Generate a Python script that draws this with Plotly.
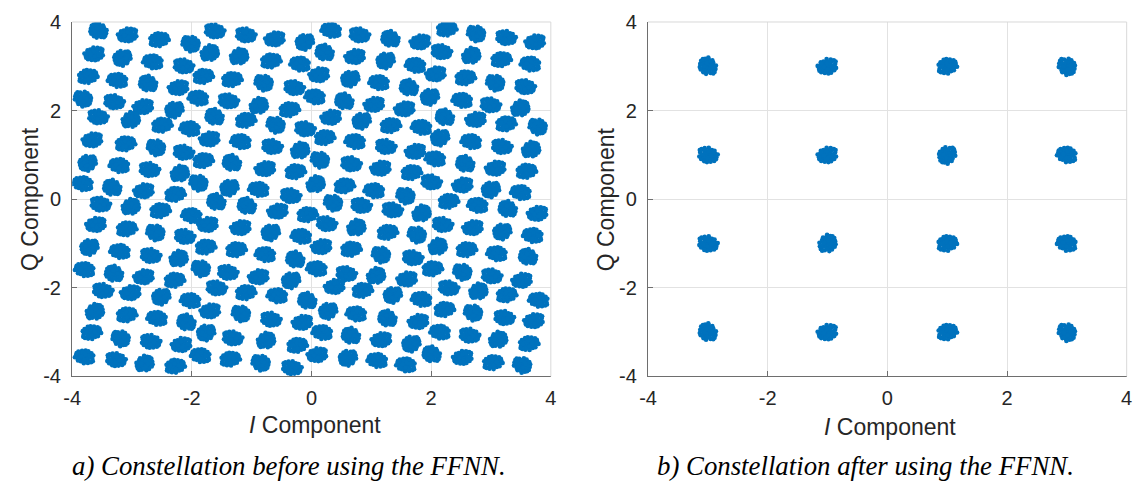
import plotly.graph_objects as go

# Cluster centres of the received symbols before equalisation (I, Q)
left_i = [
    -3.56, -3.07, -2.55, -2.02, -1.62, -3.63, -3.16, -2.65, -2.14, -1.70,
    -3.74, -3.24, -2.73, -2.22, -1.81, -3.82, -3.30, -2.81, -2.29, -1.89,
    -3.57, -3.02, -2.50, -2.03, -1.62, -3.66, -3.11, -2.60, -2.14, -1.70,
    -3.74, -3.21, -2.71, -2.20, -1.81, -3.82, -3.33, -2.80, -2.28, -1.89,
    -1.10, -0.61, -0.11, 0.33, 0.80, -1.21, -0.68, -0.19, 0.22, 0.73,
    -1.33, -0.80, -0.29, 0.13, 0.65, 1.13, -1.39, -0.88, -0.37, 0.06, 0.55, 1.05,
    -1.10, -0.60, -0.11, 0.33, 0.84, -1.18, -0.66, -0.19, 0.22, 0.73,
    -1.33, -0.77, -0.27, 0.14, 0.66, 1.16, -1.37, -0.88, -0.35, 0.07, 0.55, 1.05,
    1.32, 1.82, 2.26, 2.75, 3.25, 3.74, 1.24, 1.74, 2.17, 2.67, 3.17, 3.66,
    1.63, 2.08, 2.57, 3.07, 3.57, 1.56, 1.98, 2.52, 2.99, 3.49,
    1.32, 1.84, 2.23, 2.75, 3.25, 3.78, 1.24, 1.74, 2.15, 2.67, 3.18, 3.67,
    1.67, 2.07, 2.57, 3.08, 3.59, 1.57, 2.00, 2.53, 3.00, 3.50,
    -3.53, -3.02, -2.53, -2.00, -1.59, -3.60, -3.09, -2.61, -2.12, -1.73,
    -3.71, -3.20, -2.69, -2.22, -1.77, -3.79, -3.30, -2.80, -2.29, -1.85,
    -3.49, -3.02, -2.51, -2.02, -1.59, -3.62, -3.09, -2.58, -2.09, -1.69,
    -3.68, -3.19, -2.69, -2.17, -1.76, -3.79, -3.27, -2.79, -2.28, -1.85,
    -1.08, -0.56, -0.07, 0.36, 0.83, -1.18, -0.68, -0.17, 0.25, 0.75,
    -1.26, -0.77, -0.27, 0.17, 0.66, 1.16, -1.40, -0.88, -0.34, 0.09, 0.58, 1.08,
    -1.10, -0.57, -0.07, 0.39, 0.85, -1.18, -0.68, -0.15, 0.28, 0.75,
    -1.32, -0.76, -0.24, 0.18, 0.66, 1.17, -1.36, -0.85, -0.33, 0.10, 0.61, 1.10,
    1.35, 1.84, 2.29, 2.78, 3.28, 3.78, 1.27, 1.76, 2.19, 2.70, 3.19, 3.70,
    1.69, 2.11, 2.59, 3.10, 3.62, 1.60, 2.02, 2.52, 3.01, 3.52,
    1.36, 1.84, 2.29, 2.79, 3.26, 3.80, 1.27, 1.79, 2.22, 2.70, 3.22, 3.72,
    1.67, 2.15, 2.64, 3.12, 3.63, 1.58, 2.01, 2.53, 3.03, 3.52,
]
left_q = [
    3.80, 3.71, 3.60, 3.51, 3.80, 3.28, 3.19, 3.10, 3.01, 3.30,
    2.77, 2.68, 2.61, 2.52, 2.77, 2.27, 2.20, 2.09, 2.02, 2.28,
    1.86, 1.79, 1.67, 1.59, 1.86, 1.34, 1.25, 1.17, 1.06, 1.36,
    0.82, 0.76, 0.67, 0.58, 0.87, 0.35, 0.26, 0.19, 0.11, 0.37,
    3.71, 3.62, 3.55, 3.81, 3.71, 3.22, 3.12, 3.05, 3.31, 3.22,
    2.70, 2.63, 2.52, 2.81, 2.72, 2.63, 2.22, 2.11, 2.02, 2.31, 2.21, 2.14,
    1.78, 1.68, 1.59, 1.85, 1.77, 1.30, 1.19, 1.10, 1.39, 1.30,
    0.82, 0.69, 0.62, 0.89, 0.80, 0.70, 0.26, 0.22, 0.08, 0.34, 0.30, 0.19,
    3.62, 3.55, 3.84, 3.74, 3.65, 3.55, 3.13, 3.02, 3.33, 3.24, 3.15, 3.05,
    2.52, 2.83, 2.74, 2.63, 2.54, 2.04, 2.31, 2.23, 2.13, 2.05,
    1.66, 1.62, 1.85, 1.80, 1.70, 1.64, 1.19, 1.08, 1.39, 1.30, 1.19, 1.12,
    0.60, 0.91, 0.80, 0.70, 0.63, 0.08, 0.39, 0.32, 0.22, 0.15,
    -0.11, -0.17, -0.26, -0.37, -0.06, -0.57, -0.67, -0.75, -0.84, -0.57,
    -1.08, -1.18, -1.27, -1.34, -1.08, -1.59, -1.68, -1.75, -1.83, -1.56,
    -2.06, -2.11, -2.20, -2.29, -2.00, -2.54, -2.61, -2.69, -2.78, -2.52,
    -3.01, -3.14, -3.21, -3.28, -3.01, -3.56, -3.62, -3.71, -3.77, -3.53,
    -0.15, -0.27, -0.35, -0.08, -0.14, -0.64, -0.75, -0.84, -0.55, -0.64,
    -1.14, -1.25, -1.36, -1.07, -1.13, -1.25, -1.65, -1.75, -1.83, -1.57, -1.68, -1.73,
    -2.11, -2.18, -2.29, -1.97, -2.06, -2.58, -2.71, -2.78, -2.52, -2.59,
    -3.13, -3.19, -3.30, -3.01, -3.08, -3.17, -3.61, -3.69, -3.80, -3.51, -3.58, -3.64,
    -0.24, -0.32, -0.05, -0.14, -0.22, -0.32, -0.75, -0.80, -0.57, -0.64, -0.73, -0.82,
    -1.32, -1.07, -1.14, -1.23, -1.30, -1.80, -1.57, -1.64, -1.73, -1.83,
    -2.16, -2.26, -2.00, -2.08, -2.16, -2.28, -2.69, -2.76, -2.49, -2.56, -2.67, -2.74,
    -3.26, -3.00, -3.07, -3.17, -3.26, -3.74, -3.50, -3.57, -3.69, -3.74,
]

# Cluster centres after the FFNN (16-QAM grid)
right_i = [-3, -1, 1, 3, -3, -1, 1, 3, -3, -1, 1, 3, -3, -1, 1, 3]
right_q = [3, 3, 3, 3, 1, 1, 1, 1, -1, -1, -1, -1, -3, -3, -3, -3]

tick_vals = [-4, -2, 0, 2, 4]
tick_text = ["-4", "-2", "0", "2", "4"]

# Fixed blob shape used to draw each cluster as a cloud of dots (unit disc)
spread_u = [0.00, 0.35, -0.35, 0.15, -0.15, 0.60, -0.60, 0.45, -0.45, 0.55,
            -0.55, 0.85, -0.85, 0.10, -0.10, 0.30, -0.30, 0.75, -0.75, 0.30,
            -0.35, 0.95, -0.95, 0.20, -0.20, 0.50, -0.50, 0.25, -0.25, 1.10,
            -0.70, 0.70, 0.05, -0.05, 0.65, -0.65, 0.40, -0.40, 0.90, -0.90]
spread_v = [0.00, 0.10, 0.20, 0.50, -0.50, -0.20, -0.10, 0.60, 0.60, -0.60,
            -0.50, 0.10, 0.30, 0.90, -0.90, -0.30, 0.30, 0.50, -0.50, -0.85,
            0.85, -0.30, -0.20, 0.25, -0.20, 0.20, -0.15, -0.65, 0.60, 0.05,
            0.75, -0.75, 0.40, -0.40, 0.30, 0.05, -0.10, -0.80, -0.55, 0.60]

BLUE = "#0072BD"
TXT = "#262626"
W, H = 1146, 493


def px_x(x):
    return x / W


def px_y(y):
    return 1 - y / H


def cloud(ci, cq, sx, sy):
    xs, ys = [], []
    for k, (a, b) in enumerate(zip(ci, cq)):
        fx = 1 if k % 2 == 0 else -1
        fy = 1 if (k // 2) % 2 == 0 else -1
        swap = k % 3 == 0
        for u, v in zip(spread_u, spread_v):
            if swap:
                u, v = v, u
            xs.append(a + fx * u * sx)
            ys.append(b + fy * v * sy)
    return xs, ys


lx, ly = cloud(left_i, left_q, 0.15, 0.16)
rx, ry = cloud(right_i, right_q, 0.15, 0.18)

fig = go.Figure()
fig.add_trace(go.Scatter(x=lx, y=ly, mode="markers", xaxis="x", yaxis="y",
                         marker=dict(size=4.6, color=BLUE), hoverinfo="skip"))
fig.add_trace(go.Scatter(x=rx, y=ry, mode="markers", xaxis="x2", yaxis="y2",
                         marker=dict(size=4.6, color=BLUE), hoverinfo="skip"))

# plot boxes in pixels: left x 64..549, right x 647.5..1132.5, y 11.5..382.5
y_dom = [px_y(382.5), px_y(11.5)]
ax_common = dict(range=[-4, 4], tickvals=tick_vals, ticktext=tick_text,
                 showgrid=True, gridcolor="#e2e2e2", gridwidth=1,
                 zeroline=False, showline=True, linecolor="#6e6e6e", linewidth=1.3,
                 ticks="inside", ticklen=5, tickcolor="#6e6e6e",
                 tickfont=dict(family="Liberation Sans, Arial", size=20, color=TXT),
                 fixedrange=True)

fig.update_layout(
    width=W, height=H,
    margin=dict(l=0, r=0, t=0, b=0),
    paper_bgcolor="white", plot_bgcolor="white",
    showlegend=False,
    xaxis=dict(domain=[px_x(64), px_x(549)], anchor="y", ticklabelstandoff=3, **ax_common),
    yaxis=dict(domain=y_dom, anchor="x", ticklabelstandoff=6, **ax_common),
    xaxis2=dict(domain=[px_x(647.5), px_x(1132.5)], anchor="y2", ticklabelstandoff=3, **ax_common),
    yaxis2=dict(domain=y_dom, anchor="x2", ticklabelstandoff=6, **ax_common),
)

# light top/right frame edges
for xr, yr in (("x", "y"), ("x2", "y2")):
    fig.add_shape(type="line", xref=f"{xr} domain", yref=f"{yr} domain",
                  x0=0, x1=1, y0=1, y1=1, line=dict(color="#d9d9d9", width=1))
    fig.add_shape(type="line", xref=f"{xr} domain", yref=f"{yr} domain",
                  x0=1, x1=1, y0=0, y1=1, line=dict(color="#d9d9d9", width=1))

title_font = dict(family="Liberation Sans, Arial", size=23, color=TXT)
cap_font = dict(family="Liberation Serif, Times New Roman", size=26.8, color="black")


def ann(text, x, y, font, angle=0):
    fig.add_annotation(text=text, x=px_x(x), y=px_y(y), xref="paper", yref="paper",
                       xanchor="center", yanchor="middle", showarrow=False,
                       textangle=angle, font=font)


ann("Q Component", 21, 197, title_font, -90)
ann("Q Component", 605, 197, title_font, -90)
ann("<i>I</i> Component", 310, 433, title_font)
ann("<i>I</i> Component", 893, 435, title_font)
ann("<i>a) Constellation before using the FFNN.</i>", 284, 476, cap_font)
ann("<i>b) Constellation after using the FFNN.</i>", 868, 476, cap_font)

fig.write_html("out.html")
